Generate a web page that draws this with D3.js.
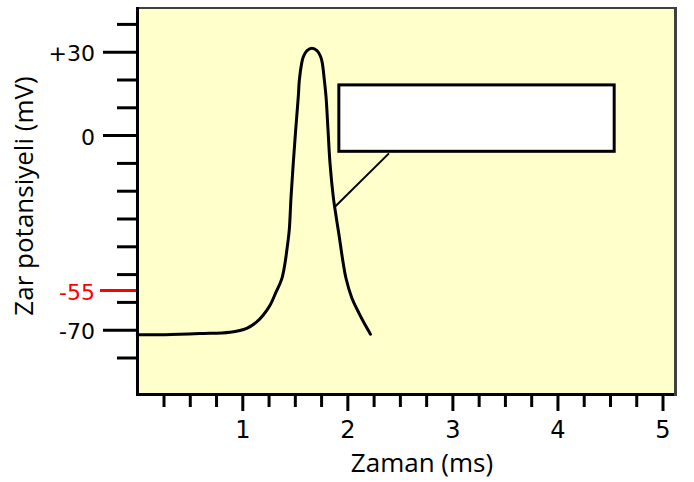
<!DOCTYPE html>
<html><head><meta charset="utf-8">
<script src="https://cdn.jsdelivr.net/npm/d3@7"></script>
<style>
html,body{margin:0;padding:0;background:#fff;}
svg{display:block;}
</style></head>
<body><svg id="c" width="694" height="482"></svg>
<script>
// ---- data ----
const timeMs = [0,0.264,0.597,0.883,1.042,1.137,1.2,1.264,1.321,1.375,1.406,1.428,1.447,1.464,1.485,1.508,1.533,1.543,1.565,1.581,1.616,1.663,1.711,1.746,1.762,1.781,1.797,1.816,1.835,1.866,1.892,1.921,1.956,1.987,2.041,2.114,2.161,2.22];
const potentialMv = [-71.8,-71.8,-71.4,-70.9,-69.5,-67.2,-64.7,-61.2,-56.5,-51.8,-46.2,-40.2,-34.2,-22.2,-10.2,1.8,13.8,19.8,25.8,28.2,30.4,31.2,30.4,28.2,25.8,19.8,13.8,1.8,-10.2,-22.2,-29,-36,-45,-51.5,-58.4,-64.3,-67.7,-71.6];
const yMajorTicks = [30, 0, -70];
const yMajorLabels = ["+30", "0", "-70"];
const yMinorTicks = [40, 20, 10, -10, -20, -30, -40, -50, -60, -80];
const thresholdTick = [-55];
const thresholdLabel = ["-55"];
const xMajorTicks = [1, 2, 3, 4, 5];
const xMinorTicks = [0.25,0.5,0.75,1.25,1.5,1.75,2.25,2.5,2.75,3.25,3.5,3.75,4.25,4.5,4.75];
const calloutBox = {t1: 1.919, t2: 4.540, vTop: 18.06, vBottom: -5.83};
const calloutLeader = [[2.396, -6.58], [1.882, -25.8]];
const xTitle = "Zaman (ms)";
const yTitle = "Zar potansiyeli (mV)";

// ---- layout ----
const svg = d3.select("#c");
const x = d3.scaleLinear().domain([0, 5]).range([137.25, 662.5]);
const y = d3.scaleLinear().domain([-70, 30]).range([329.7, 51.7]);

const tickFont = "'DejaVu Sans', sans-serif";
const titleFont = "'Open Sans', sans-serif";

// plot background & frame
svg.append("rect").attr("x",139).attr("y",9).attr("width",535).attr("height",384).attr("fill","#ffffcc");
svg.append("line").attr("x1",139).attr("x2",677).attr("y1",8).attr("y2",8).attr("stroke","#404040").attr("stroke-width",2);
svg.append("line").attr("x1",675.5).attr("x2",675.5).attr("y1",7).attr("y2",396).attr("stroke","#404040").attr("stroke-width",3);

// curve
const line = d3.line().x(d=>x(d[0])).y(d=>y(d[1])).curve(d3.curveCatmullRom.alpha(0.5));
const pts = timeMs.map((t,i)=>[t, potentialMv[i]]);
svg.append("path").datum(pts).attr("d",line).attr("fill","none").attr("stroke","#000").attr("stroke-width",3).attr("stroke-linejoin","round").attr("stroke-linecap","round");

// callout
svg.append("line")
  .attr("x1",x(calloutLeader[0][0])).attr("y1",y(calloutLeader[0][1]))
  .attr("x2",x(calloutLeader[1][0])).attr("y2",y(calloutLeader[1][1]))
  .attr("stroke","#000").attr("stroke-width",2);
svg.append("rect")
  .attr("x",x(calloutBox.t1)).attr("y",y(calloutBox.vTop))
  .attr("width",x(calloutBox.t2)-x(calloutBox.t1)).attr("height",y(calloutBox.vBottom)-y(calloutBox.vTop))
  .attr("fill","#fff").attr("stroke","#000").attr("stroke-width",3);

// y axis
function styleAxis(g, color){
  g.select(".domain").remove();
  g.selectAll(".tick line").attr("stroke",color).attr("stroke-width",3);
  g.selectAll(".tick text").attr("fill",color).style("font-family",tickFont).style("font-size","22px");
}
const yMinor = svg.append("g").attr("transform","translate(137,0)")
  .call(d3.axisLeft(y).tickValues(yMinorTicks).tickSize(20).tickFormat(""));
styleAxis(yMinor,"#000");
const yMajor = svg.append("g").attr("transform","translate(137,0)")
  .call(d3.axisLeft(y).tickValues(yMajorTicks).tickSize(34).tickPadding(8).tickFormat((d,i)=>yMajorLabels[i]));
styleAxis(yMajor,"#000");
yMajor.selectAll(".tick text").attr("dy","0.42em");
const yRed = svg.append("g").attr("transform","translate(137,2)")
  .call(d3.axisLeft(y).tickValues(thresholdTick).tickSize(37).tickPadding(5).tickFormat((d,i)=>thresholdLabel[i]));
styleAxis(yRed,"#ff0000");
yRed.selectAll(".tick text").attr("dy","0.42em");

// x axis
const xMinor = svg.append("g").attr("transform","translate(0,396)")
  .call(d3.axisBottom(x).tickValues(xMinorTicks).tickSize(11).tickFormat(""));
styleAxis(xMinor,"#000");
const xMajor = svg.append("g").attr("transform","translate(0,396)")
  .call(d3.axisBottom(x).tickValues(xMajorTicks).tickSize(15).tickFormat(d3.format("d")));
styleAxis(xMajor,"#000");
xMajor.selectAll(".tick text").attr("y",42).attr("dy",0).style("font-size","24px");

// frame left & bottom (black)
svg.append("line").attr("x1",137.5).attr("x2",137.5).attr("y1",7).attr("y2",396).attr("stroke","#000").attr("stroke-width",3);
svg.append("line").attr("x1",136).attr("x2",674).attr("y1",394.5).attr("y2",394.5).attr("stroke","#000").attr("stroke-width",3);

// titles
svg.append("text").attr("x",422).attr("y",472).attr("text-anchor","middle")
  .style("font-family",titleFont).style("font-size","26px").attr("fill","#000").text(xTitle);
svg.append("text").attr("transform","translate(33,196) rotate(-90)").attr("text-anchor","middle")
  .style("font-family",titleFont).style("font-size","26px").attr("fill","#000").text(yTitle);
</script></body></html>
